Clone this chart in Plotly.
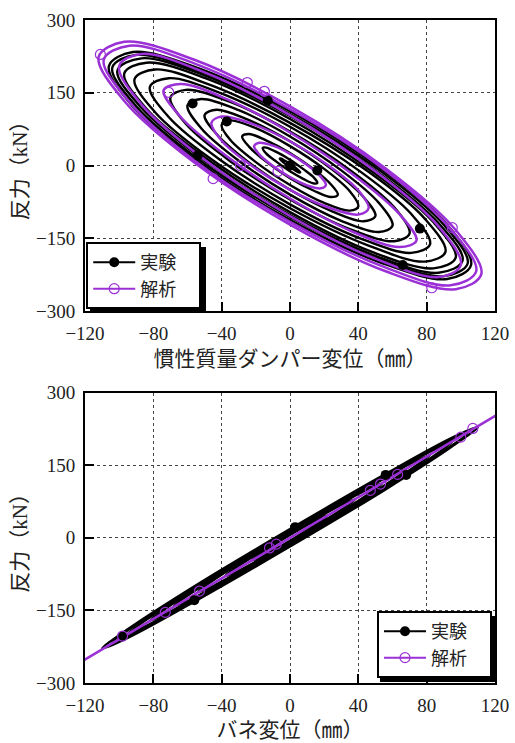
import plotly.graph_objects as go
from plotly.subplots import make_subplots

PURPLE = "#9b30d6"
BLACK = "#000000"

# ---------------- top: inertia mass damper (displacement mm, force kN) ----------------
# experiment loops (one list per loop)
exp_damper_x = [
    [106, 92, 53, 0, -53, -92, -106, -92, -53, 0, 53, 92],
    [104, 90, 52, 0, -52, -90, -104, -90, -52, 0, 52, 90],
    [101, 87, 50, 0, -50, -87, -101, -87, -50, 0, 50, 87],
    [97, 84, 48, 0, -48, -84, -97, -84, -48, 0, 48, 84],
    [91, 79, 46, 0, -46, -79, -91, -79, -46, 0, 46, 79],
    [82, 71, 41, 0, -41, -71, -82, -71, -41, 0, 41, 71],
    [70, 61, 35, 0, -35, -61, -70, -61, -35, 0, 35, 61],
    [60, 52, 30, 0, -30, -52, -60, -52, -30, 0, 30, 52],
    [50, 43, 25, 0, -25, -43, -50, -43, -25, 0, 25, 43],
    [40, 35, 20, 0, -20, -35, -40, -35, -20, 0, 20, 35],
    [28, 24, 14, 0, -14, -24, -28, -24, -14, 0, 14, 24],
    [16, 14, 8, 0, -8, -14, -16, -14, -8, 0, 8, 14],
    [6, 5, 3, 0, -3, -5, -6, -5, -3, 0, 3, 5],
]
exp_damper_y = [
    [-205, -122, -6, 112, 200, 234, 205, 122, 6, -112, -200, -234],
    [-202, -122, -9, 106, 193, 228, 202, 122, 9, -106, -193, -228],
    [-196, -119, -10, 102, 186, 221, 196, 119, 10, -102, -186, -221],
    [-190, -117, -12, 96, 178, 212, 190, 117, 12, -96, -178, -212],
    [-178, -110, -13, 88, 165, 198, 178, 110, 13, -88, -165, -198],
    [-162, -100, -12, 80, 150, 180, 162, 100, 12, -80, -150, -180],
    [-140, -86, -9, 70, 131, 156, 140, 86, 9, -70, -131, -156],
    [-124, -77, -10, 60, 114, 137, 124, 77, 10, -60, -114, -137],
    [-104, -65, -9, 50, 95, 115, 104, 65, 9, -50, -95, -115],
    [-84, -53, -7, 40, 77, 93, 84, 53, 7, -40, -77, -93],
    [-60, -39, -8, 26, 52, 65, 60, 39, 8, -26, -52, -65],
    [-36, -25, -8, 12, 28, 37, 36, 25, 8, -12, -28, -37],
    [-14, -10, -4, 4, 10, 14, 14, 10, 4, -4, -10, -14],
]
# analysis loops
anl_damper_x = [
    [112, 97, 56, 0, -56, -97, -112, -97, -56, 0, 56, 97],
    [109, 94, 55, 0, -55, -94, -109, -94, -55, 0, 55, 94],
    [100, 87, 50, 0, -50, -87, -100, -87, -50, 0, 50, 87],
    [74, 64, 37, 0, -37, -64, -74, -64, -37, 0, 37, 64],
    [46, 40, 23, 0, -23, -40, -46, -40, -23, 0, 23, 40],
    [21, 18, 10, 0, -10, -18, -21, -18, -10, 0, 10, 18],
]
anl_damper_y = [
    [-224, -133, -6, 122, 218, 255, 224, 133, 6, -122, -218, -255],
    [-218, -131, -8, 116, 209, 247, 218, 131, 8, -116, -209, -247],
    [-205, -126, -12, 104, 192, 230, 205, 126, 12, -104, -192, -230],
    [-155, -100, -19, 68, 137, 168, 155, 100, 19, -68, -137, -168],
    [-88, -51, -1, 50, 87, 101, 88, 51, 1, -50, -87, -101],
    [-40, -23, 1, 24, 41, 47, 40, 23, -1, -24, -41, -47],
]
# marker points
exp_damper_mk_x = [-57, -54, -37, -13, 0, 16, 76, 66]
exp_damper_mk_y = [128, 21, 91, 134, 0, -10, -130, -205]
anl_damper_mk_x = [-111, -71, -25, -15, -29, -45, -7, 95, 83]
anl_damper_mk_y = [229, 151, 171, 153, 0, -27, -12, -128, -252]

# ---------------- bottom: spring (displacement mm, force kN) ----------------
exp_spring_x = [
    [110, 95, 55, 0, -55, -95, -110, -95, -55, 0, 55, 95],
    [104, 90, 52, 0, -52, -90, -104, -90, -52, 0, 52, 90],
    [95, 82, 48, 0, -48, -82, -95, -82, -48, 0, 48, 82],
    [82, 71, 41, 0, -41, -71, -82, -71, -41, 0, 41, 71],
    [68, 59, 34, 0, -34, -59, -68, -59, -34, 0, 34, 59],
    [54, 47, 27, 0, -27, -47, -54, -47, -27, 0, 27, 47],
    [38, 33, 19, 0, -19, -33, -38, -33, -19, 0, 19, 33],
    [22, 19, 11, 0, -11, -19, -22, -19, -11, 0, 11, 19],
]
exp_spring_y = [
    [229, 207, 130, 18, -98, -189, -229, -207, -130, -18, 98, 189],
    [216, 195, 121, 15, -95, -179, -216, -195, -121, -15, 95, 179],
    [198, 178, 112, 14, -88, -164, -198, -178, -112, -14, 88, 164],
    [171, 154, 95, 12, -75, -142, -171, -154, -95, -12, 75, 142],
    [141, 129, 81, 11, -61, -117, -141, -129, -81, -11, 61, 117],
    [112, 103, 65, 10, -47, -93, -112, -103, -65, -10, 47, 93],
    [79, 73, 47, 8, -33, -65, -79, -73, -47, -8, 33, 65],
    [46, 43, 28, 6, -18, -37, -46, -43, -28, -6, 18, 37],
]
anl_spring_x = [-125, 125]
anl_spring_y = [-262, 262]
exp_spring_mk_x = [-98, -56, 3, 56, 68]
exp_spring_mk_y = [-203, -129, 22, 130, 130]
anl_spring_mk_x = [-98, -73, -53, -12, -8, 47, 53, 63, 100, 107]
anl_spring_mk_y = [-203, -154, -110, -21, -13, 98, 111, 131, 208, 226]

x_ticks = [-120, -80, -40, 0, 40, 80, 120]
y_ticks = [-300, -150, 0, 150, 300]
series_names = ["実験", "解析"]
x_titles = ["慣性質量ダンパー変位（㎜）", "バネ変位（㎜）"]
y_title = "反力（kN）"


def closed(loops):
    out = []
    for lp in loops:
        out += list(lp) + [lp[0], None]
    return out


fig = make_subplots(rows=2, cols=1, vertical_spacing=0.12)

NUMFONT = "Liberation Serif"
FONT = "Liberation Serif, Noto Sans CJK JP"
JFONT = "Noto Sans CJK JP"

panels = [
    (1, exp_damper_x, exp_damper_y, anl_damper_x, anl_damper_y,
     exp_damper_mk_x, exp_damper_mk_y, anl_damper_mk_x, anl_damper_mk_y, "legend"),
    (2, exp_spring_x, exp_spring_y, None, None,
     exp_spring_mk_x, exp_spring_mk_y, anl_spring_mk_x, anl_spring_mk_y, "legend2"),
]

for (row, ex, ey, ax_, ay_, emx, emy, amx, amy, lg) in panels:
    fig.add_trace(go.Scatter(x=closed(ex), y=closed(ey), mode="lines",
                             line=dict(color=BLACK, width=2.4, shape="spline", smoothing=1.0),
                             showlegend=False, hoverinfo="skip"), row=row, col=1)
    if ax_ is not None:
        fig.add_trace(go.Scatter(x=closed(ax_), y=closed(ay_), mode="lines",
                                 line=dict(color=PURPLE, width=2.5, shape="spline", smoothing=1.0),
                                 showlegend=False, hoverinfo="skip"), row=row, col=1)
    else:
        fig.add_trace(go.Scatter(x=anl_spring_x, y=anl_spring_y, mode="lines",
                                 line=dict(color=PURPLE, width=2.5),
                                 showlegend=False, hoverinfo="skip"), row=row, col=1)
    fig.add_trace(go.Scatter(x=emx, y=emy, mode="markers",
                             marker=dict(color=BLACK, size=10, symbol="circle"),
                             showlegend=False), row=row, col=1)
    fig.add_trace(go.Scatter(x=amx, y=amy, mode="markers",
                             marker=dict(color=PURPLE, size=10, symbol="circle-open",
                                         line=dict(width=1.2, color=PURPLE)),
                             showlegend=False), row=row, col=1)
    # legend entries (ideographic space pads the entry like the reference box)
    fig.add_trace(go.Scatter(x=[None], y=[None], mode="lines+markers",
                             name=series_names[0] + "\u3000",
                             line=dict(color=BLACK, width=2),
                             marker=dict(color=BLACK, size=10), legend=lg), row=row, col=1)
    fig.add_trace(go.Scatter(x=[None], y=[None], mode="lines+markers",
                             name=series_names[1] + "\u3000",
                             line=dict(color=PURPLE, width=2),
                             marker=dict(color=PURPLE, size=10, symbol="circle-open",
                                         line=dict(width=1.2, color=PURPLE)), legend=lg), row=row, col=1)

axis_common = dict(
    showline=True, linewidth=2, linecolor="black", mirror=True,
    ticks="inside", ticklen=9, tickwidth=2, tickcolor="black",
    showgrid=True, gridcolor="#444", gridwidth=1.3, griddash="dot",
    zeroline=False, automargin=False, ticklabelstandoff=4,
    tickfont=dict(family=NUMFONT, size=19, color="#222"),
)
for r in (1, 2):
    fig.update_xaxes(range=[-120, 120], tickvals=x_ticks, **axis_common,
                     title=dict(text=x_titles[r - 1], font=dict(family=FONT, size=21, color="#222"),
                                standoff=8),
                     row=r, col=1)
    fig.update_yaxes(range=[-300, 300], tickvals=y_ticks, **axis_common,
                     title=dict(text=y_title, font=dict(family=FONT, size=21, color="#222"),
                                standoff=3),
                     row=r, col=1)

# legend drop shadows (paper coordinates)
shadow_boxes = [
    (0.0122, 0.561, 0.2951, 0.6576),
    (0.7195, 0.0015, 1.0, 0.101),
]
for (sx0, sy0, sx1, sy1) in shadow_boxes:
    fig.add_shape(type="rect", xref="paper", yref="paper", x0=sx0, y0=sy0, x1=sx1, y1=sy1,
                  fillcolor="black", line=dict(width=0), layer="above")

legend_style = dict(bgcolor="white", bordercolor="black", borderwidth=2, itemwidth=42,
                    font=dict(family=JFONT, size=18, color="#222"))
fig.update_layout(
    width=515, height=743,
    margin=dict(l=85, r=20, t=20, b=60),
    plot_bgcolor="white", paper_bgcolor="white",
    font=dict(family=FONT, color="#222"),
    yaxis=dict(domain=[0.561, 1.0]),
    yaxis2=dict(domain=[0.0, 0.438]),
    legend=dict(x=0.003, y=0.564, xanchor="left", yanchor="bottom", **legend_style),
    legend2=dict(x=0.9927, y=0.0075, xanchor="right", yanchor="bottom", **legend_style),
)

fig.write_html("out.html", config={"displayModeBar": False},
               post_script="document.body.style.margin='0';")
